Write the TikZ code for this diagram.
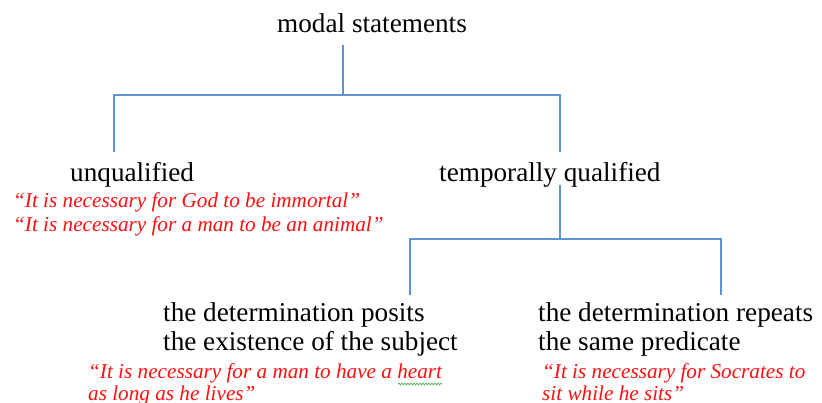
\documentclass[tikz,border=0pt]{standalone}
\usepackage{fontspec}
\setmainfont{Liberation Serif}
\usetikzlibrary{decorations.pathmorphing}
\definecolor{linkblue}{HTML}{5F93D0}
\definecolor{exred}{HTML}{FF1010}
\definecolor{spellgreen}{HTML}{5DB35D}
\tikzset{
  term/.style={font=\fontsize{27.2}{32}\selectfont, inner sep=0pt, anchor=base west},
  example/.style={font=\fontsize{21.2}{23}\selectfont\itshape, text=exred, inner sep=0pt, anchor=base west},
  link/.style={draw=linkblue, line width=2pt},
  squiggle/.style={draw=spellgreen, line width=0.8pt,
    decorate, decoration={snake, amplitude=0.9pt, segment length=3pt}}
}
\begin{document}
\begin{tikzpicture}[x=1pt, y=-1pt]
\useasboundingbox (0,0) rectangle (822,403);

% root
\node[term] (ms) at (277,33) {modal statements};

% first level
\node[term] (unq) at (70,182) {unqualified};
\node[example] (unqA) at (13,208) {“It is necessary for God to be immortal”};
\node[example] (unqB) at (13,232) {“It is necessary for a man to be an animal”};

\node[term] (tq) at (439,182) {temporally qualified};

% second level
\node[term] (posA) at (163,322) {the determination posits};
\node[term] (posB) at (163,350) {the existence of the subject};
\node[example] (posExA) at (88,378) {“It is necessary for a man to have a heart};
\node[example] (posExB) at (88,400) {as long as he lives”};

\node[term] (repA) at (538,322) {the determination repeats};
\node[term] (repB) at (538,350) {the same predicate};
\node[example] (repExA) at (542,378) {“It is necessary for Socrates to};
\node[example] (repExB) at (542,400) {sit while he sits”};

% connector ends
\coordinate (msStem) at (343,45);
\coordinate (fork1) at (343,95);
\coordinate (unqTop) at (114,152);
\coordinate (tqTop) at (560,152);
\coordinate (tqStem) at (560,185);
\coordinate (fork2) at (560,239);
\coordinate (posTop) at (410,295);
\coordinate (repTop) at (721,295);

\draw[link] (msStem) -- (fork1) -| (unqTop);
\draw[link] (fork1) -| (tqTop);
\draw[link] (tqStem) -- (fork2) -| (posTop);
\draw[link] (fork2) -| (repTop);

% spelling mark under "heart"
\coordinate (heartL) at (398,384);
\draw[squiggle] (heartL) -- (posExA.base east |- heartL);
\end{tikzpicture}
\end{document}
